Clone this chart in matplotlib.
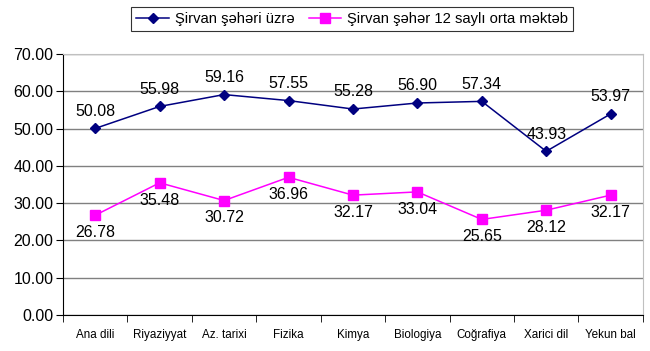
import matplotlib
matplotlib.use("Agg")
import matplotlib.pyplot as plt
import numpy as np

plt.rcParams['font.family'] = ['Liberation Sans', 'DejaVu Sans']

categories = ["Ana dili", "Riyaziyyat", "Az. tarixi", "Fizika", "Kimya",
              "Biologiya", "Coğrafiya", "Xarici dil", "Yekun bal"]
city = [50.08, 55.98, 59.16, 57.55, 55.28, 56.90, 57.34, 43.93, 53.97]
school = [26.78, 35.48, 30.72, 36.96, 32.17, 33.04, 25.65, 28.12, 32.17]
series_names = ["Şirvan şəhəri üzrə", "Şirvan şəhər 12 saylı orta məktəb"]
yticks = [0, 10, 20, 30, 40, 50, 60, 70]

fig = plt.figure(figsize=(6.5, 3.51), dpi=100)
ax = fig.add_axes([0.097, 0.1026, 0.892, 0.743])

x = np.arange(len(categories))
l1, = ax.plot(x, city, color="#000080", marker="D", markersize=5, linewidth=1.1, label=series_names[0], zorder=3)
l2, = ax.plot(x, school, color="#FF00FF", marker="s", markersize=6.5, linewidth=1.1, label=series_names[1], zorder=3)

for xi, v in zip(x, city):
    ax.annotate(f"{v:.2f}", (xi, v), xytext=(0, 7), textcoords="offset points",
                ha="center", va="bottom", fontsize=11.5, color="black")
for xi, v in zip(x, school):
    ax.annotate(f"{v:.2f}", (xi, v), xytext=(0, -7), textcoords="offset points",
                ha="center", va="top", fontsize=11.5, color="black")

ax.set_xlim(-0.5, len(categories) - 0.5)
ax.set_ylim(0, 70)
ax.set_yticks(yticks)
ax.set_yticklabels([f"{t:.2f}" for t in yticks], fontsize=11.5)
ax.yaxis.grid(True, color="#808080", linewidth=1)
ax.set_axisbelow(True)

ax.set_xticks(x)
ax.set_xticklabels(categories, fontsize=8.4)
ax.set_xticks(np.arange(-0.5, len(categories)), minor=True)
ax.tick_params(axis="x", which="major", length=0, pad=10)
ax.tick_params(axis="x", which="minor", length=5, direction="out", color="black")
ax.tick_params(axis="y", length=5, direction="out", color="black", pad=2)

for s in ["top", "right"]:
    ax.spines[s].set_color("#c0c0c0")
for s in ["left", "bottom"]:
    ax.spines[s].set_color("black")

leg = fig.legend(handles=[l1, l2], loc="center", bbox_to_anchor=(0.542, 0.946), ncol=2,
                 fontsize=10.6, frameon=True, fancybox=False, edgecolor="black",
                 handlelength=2.2, handletextpad=0.4, columnspacing=1.0,
                 borderpad=0.35)
leg.get_frame().set_linewidth(0.8)

fig.savefig("out.png", dpi=100)
